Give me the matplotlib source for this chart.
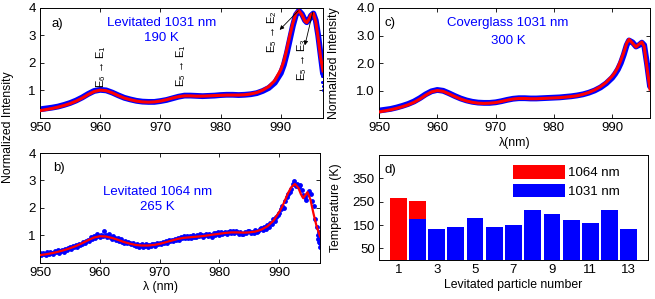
import matplotlib
matplotlib.use("Agg")
import matplotlib.pyplot as plt
from matplotlib.patches import Patch

plt.rcParams['font.family'] = ['Liberation Sans', 'DejaVu Sans']
plt.rcParams['mathtext.fontset'] = 'custom'
plt.rcParams['mathtext.rm'] = 'Liberation Sans'
plt.rcParams['mathtext.it'] = 'Liberation Sans:italic'

# ---------------- data ----------------
# panel a (levitated, 1031 nm)
xa = [950, 951, 952, 953, 954, 955, 956, 957, 958, 959, 960, 961, 962, 963, 964, 965,
      966, 967, 968, 969, 970, 971, 972, 973, 974, 975, 976, 977, 978, 979, 980, 981,
      982, 983, 984, 985, 986, 987, 988, 989, 990, 990.5, 991, 991.5, 992, 992.5, 993,
      993.5, 994, 994.3, 994.7, 995, 995.4, 995.8, 996.2, 996.6, 997]
fit_a = [0.25, 0.29, 0.33, 0.38, 0.44, 0.51, 0.60, 0.71, 0.84, 0.95, 1.00, 0.98, 0.90,
         0.80, 0.71, 0.65, 0.60, 0.57, 0.56, 0.57, 0.60, 0.65, 0.71, 0.76, 0.79, 0.79,
         0.78, 0.78, 0.79, 0.80, 0.81, 0.82, 0.82, 0.82, 0.83, 0.86, 0.91, 1.00, 1.13,
         1.35, 1.75, 2.05, 2.50, 3.00, 3.45, 3.80, 3.90, 3.75, 3.52, 3.47, 3.60, 3.75,
         3.80, 3.50, 2.90, 2.20, 1.70]
meas_a = [0.30, 0.33, 0.36, 0.40, 0.46, 0.53, 0.62, 0.73, 0.86, 0.97, 1.01, 0.99, 0.91,
          0.81, 0.72, 0.66, 0.61, 0.58, 0.57, 0.57, 0.60, 0.64, 0.70, 0.76, 0.80, 0.80,
          0.79, 0.78, 0.79, 0.80, 0.82, 0.83, 0.83, 0.82, 0.83, 0.85, 0.89, 0.97, 1.08,
          1.27, 1.62, 1.92, 2.35, 2.85, 3.35, 3.75, 3.90, 3.78, 3.55, 3.48, 3.58, 3.72,
          3.80, 3.55, 3.00, 2.30, 1.60]
edge_xa = [996.6, 996.7, 996.75, 996.8, 996.85, 996.9, 996.95, 997.0]
edge_ya = [2.40, 2.15, 1.90, 1.70, 1.50, 1.30, 1.15, 1.00]

# panel c (coverglass, 1031 nm)
xc = [950, 951, 952, 953, 954, 955, 956, 957, 958, 959, 960, 961, 962, 963, 964, 965,
      966, 967, 968, 969, 970, 971, 972, 973, 974, 975, 976, 977, 978, 979, 980, 981,
      982, 983, 984, 985, 986, 987, 988, 989, 990, 990.5, 991, 991.5, 992, 992.5, 992.9,
      993.5, 994.1, 994.6, 995.1, 995.5, 996.0, 996.5]
fit_c = [0.22, 0.26, 0.30, 0.35, 0.41, 0.48, 0.57, 0.69, 0.83, 0.95, 1.00, 0.97, 0.88,
         0.78, 0.69, 0.62, 0.57, 0.54, 0.53, 0.54, 0.56, 0.60, 0.65, 0.69, 0.71, 0.71,
         0.70, 0.70, 0.71, 0.72, 0.73, 0.74, 0.76, 0.78, 0.81, 0.86, 0.93, 1.02, 1.14,
         1.30, 1.52, 1.66, 1.85, 2.10, 2.38, 2.72, 2.86, 2.72, 2.58, 2.68, 2.76, 2.60,
         1.80, 1.05]
meas_c = [0.27, 0.30, 0.33, 0.38, 0.44, 0.51, 0.60, 0.72, 0.86, 0.97, 1.02, 0.99, 0.90,
          0.80, 0.71, 0.64, 0.59, 0.56, 0.55, 0.55, 0.57, 0.61, 0.66, 0.70, 0.72, 0.72,
          0.71, 0.71, 0.72, 0.73, 0.74, 0.75, 0.77, 0.79, 0.82, 0.86, 0.92, 1.00, 1.11,
          1.26, 1.46, 1.60, 1.77, 2.00, 2.30, 2.65, 2.82, 2.75, 2.60, 2.65, 2.74, 2.65,
          1.95, 1.15]

# panel b (levitated, 1064 nm)
xb_fit = [950, 951, 952, 953, 954, 955, 956, 957, 958, 959, 960, 961, 962, 963, 964, 965,
          966, 967, 968, 969, 970, 971, 972, 973, 974, 975, 976, 977, 978, 979, 980, 981,
          982, 983, 984, 985, 986, 987, 988, 989, 990, 990.5, 991, 991.5, 992, 992.6,
          993.2, 993.6, 994.0, 994.7, 995.2, 995.7, 996.2, 996.8]
fit_b = [0.27, 0.30, 0.34, 0.39, 0.45, 0.52, 0.60, 0.70, 0.81, 0.91, 0.96, 0.95, 0.90,
         0.83, 0.75, 0.69, 0.64, 0.62, 0.62, 0.64, 0.68, 0.74, 0.80, 0.86, 0.90, 0.92,
         0.94, 0.96, 0.99, 1.02, 1.05, 1.08, 1.10, 1.10, 1.09, 1.10, 1.13, 1.20, 1.32,
         1.52, 1.85, 2.05, 2.30, 2.55, 2.75, 2.87, 2.72, 2.50, 2.35, 2.57, 2.30, 1.80,
         1.35, 0.95]
xb_meas_start = 950.0
xb_meas_step = 0.25
meas_b = [
    0.33, 0.27, 0.35, 0.30,  0.28, 0.37, 0.31, 0.40,  0.36, 0.30, 0.41, 0.38,
    0.44, 0.36, 0.42, 0.47,  0.40, 0.50, 0.46, 0.53,  0.55, 0.48, 0.60, 0.57,
    0.63, 0.58, 0.68, 0.64,  0.67, 0.76, 0.72, 0.80,  0.84, 0.79, 0.92, 0.87,
    0.98, 0.90, 1.04, 0.95,  0.93, 1.02, 0.97, 1.16,  1.00, 0.92, 1.05, 0.94,
    0.86, 0.95, 0.88, 0.84,  0.88, 0.80, 0.85, 0.76,  0.72, 0.79, 0.70, 0.76,
    0.73, 0.66, 0.71, 0.64,  0.60, 0.67, 0.58, 0.65,  0.66, 0.55, 0.61, 0.68,
    0.58, 0.64, 0.60, 0.67,  0.69, 0.62, 0.71, 0.66,  0.73, 0.66, 0.75, 0.70,
    0.77, 0.72, 0.81, 0.78,  0.84, 0.79, 0.87, 0.82,  0.90, 0.84, 0.93, 0.88,
    0.95, 0.88, 0.98, 0.91,  0.97, 0.90, 1.01, 0.94,  0.92, 1.00, 0.95, 1.03,
    1.02, 0.94, 0.99, 1.05,  0.96, 1.05, 1.01, 0.93,  1.08, 1.00, 1.06, 1.12,
    1.02, 1.11, 1.04, 1.09,  1.13, 1.05, 1.10, 1.15,  1.06, 1.14, 1.08, 1.16,
    1.13, 1.05, 1.12, 1.03,  1.04, 1.12, 1.07, 1.14,  1.15, 1.06, 1.12, 1.08,
    1.18, 1.11, 1.16, 1.22,  1.25, 1.18, 1.29, 1.24,  1.38, 1.30, 1.45, 1.40,
    1.58, 1.50, 1.66, 1.72,  1.80, 1.95, 2.05, 2.00,  2.25, 2.40, 2.50, 2.58,
    2.70, 2.85, 2.96, 2.80,  2.88, 2.76, 2.82, 2.66,  2.45, 2.38, 2.30, 2.52,
    2.60, 2.50, 2.25, 2.05,  1.60, 1.30, 1.00, 0.70,
]
edge_xb = [996.4, 996.55, 996.65, 996.75, 996.8]
edge_yb = [0.85, 1.10, 0.75, 0.55, 0.90]

# panel d (temperatures)
particles = [1, 2, 3, 4, 5, 6, 7, 8, 9, 10, 11, 12, 13]
temp_1031 = [0, 175, 135, 142, 178, 142, 150, 215, 198, 173, 158, 215, 135]
particles_1064 = [1, 2]
temp_1064 = [265, 255]

BLUE = (0, 0, 1)
RED = (1, 0, 0)

# ---------------- figure ----------------
fig = plt.figure(figsize=(6.55, 2.99), dpi=100)
W, H = 655.0, 299.0

def axes_px(l, t, r, b):
    return fig.add_axes([l / W, 1 - b / H, (r - l) / W, (b - t) / H])

ax_a = axes_px(40, 8, 323, 117.5)
ax_b = axes_px(40, 153, 320, 262.5)
ax_c = axes_px(379, 8, 650, 118)
ax_d = axes_px(379, 155, 648, 260)

TICK_FS = 9.5
LAB_FS = 8.8
TXT_FS = 9.5

def style_spec(ax):
    ax.tick_params(direction='in', top=True, right=True, labelsize=TICK_FS,
                   length=3, width=0.6, pad=3)
    for s in ax.spines.values():
        s.set_linewidth(0.7)
    ax.set_xticks([950, 960, 970, 980, 990])

# panel a
ax_a.plot(xa, meas_a, color=BLUE, lw=4.2, solid_capstyle='round', zorder=2)
ax_a.plot(edge_xa, edge_ya, 'o', color=BLUE, ms=2.2, mec='none', zorder=2)
ax_a.plot(xa, fit_a, color=RED, lw=2.2, zorder=3)
ax_a.set_xlim(950, 997)
ax_a.set_ylim(0, 4)
ax_a.set_yticks([1, 2, 3, 4])
style_spec(ax_a)
ax_a.text(0.04, 0.85, 'a)', transform=ax_a.transAxes, fontsize=TXT_FS, va='center')
ax_a.text(0.43, 0.866, 'Levitated 1031 nm', transform=ax_a.transAxes, color=BLUE,
          fontsize=TXT_FS, ha='center', va='center')
ax_a.text(0.43, 0.725, '190 K', transform=ax_a.transAxes, color=BLUE,
          fontsize=TXT_FS, ha='center', va='center')
ann_fs = 8
ax_a.text(960.2, 1.85, r'E$_6$ → E$_1$', rotation=90, ha='center', va='center', fontsize=ann_fs)
ax_a.text(973.4, 1.9, r'E$_5$ → E$_1$', rotation=90, ha='center', va='center', fontsize=ann_fs)
ax_a.text(988.6, 3.15, r'E$_5$ → E$_2$', rotation=90, ha='center', va='center', fontsize=ann_fs)
ax_a.text(993.5, 2.1, r'E$_5$ → E$_3$', rotation=90, ha='center', va='center', fontsize=ann_fs)
ax_a.annotate('', xy=(989.8, 3.2), xytext=(992.9, 3.9),
              arrowprops=dict(arrowstyle='-|>', lw=0.6, color='k', mutation_scale=6,
                              shrinkA=0, shrinkB=0))
ax_a.annotate('', xy=(994.0, 2.64), xytext=(995.3, 3.85),
              arrowprops=dict(arrowstyle='-|>', lw=0.6, color='k', mutation_scale=6,
                              shrinkA=0, shrinkB=0))

# panel b
xb_meas = [xb_meas_start + i * xb_meas_step for i in range(len(meas_b))]
ax_b.plot(xb_meas, meas_b, 'o', color=BLUE, ms=3.5, mec='none', zorder=2)
ax_b.plot(edge_xb, edge_yb, 'o', color=BLUE, ms=3.5, mec='none', zorder=2)
ax_b.plot(xb_fit, fit_b, color=RED, lw=1.6, zorder=3)
ax_b.set_xlim(950, 996.8)
ax_b.set_ylim(0, 4)
ax_b.set_yticks([1, 2, 3, 4])
style_spec(ax_b)
ax_b.text(0.046, 0.86, 'b)', transform=ax_b.transAxes, fontsize=TXT_FS, va='center')
ax_b.text(0.42, 0.646, 'Levitated 1064 nm', transform=ax_b.transAxes, color=BLUE,
          fontsize=TXT_FS, ha='center', va='center')
ax_b.text(0.42, 0.507, '265 K', transform=ax_b.transAxes, color=BLUE,
          fontsize=TXT_FS, ha='center', va='center')
ax_b.set_xlabel('λ (nm)', fontsize=LAB_FS)
ax_b.xaxis.set_label_coords(0.43, -0.17)

# panel c
ax_c.plot(xc, meas_c, color=BLUE, lw=4.2, solid_capstyle='round', zorder=2)
ax_c.plot(xc, fit_c, color=RED, lw=2.2, zorder=3)
ax_c.set_xlim(950, 996.5)
ax_c.set_ylim(0, 4)
ax_c.set_yticks([1, 2, 3, 4])
ax_c.set_yticklabels(['1.0', '2.0', '3.0', '4.0'])
style_spec(ax_c)
ax_c.text(0.022, 0.866, 'c)', transform=ax_c.transAxes, fontsize=TXT_FS, va='center')
ax_c.text(0.476, 0.86, 'Coverglass 1031 nm', transform=ax_c.transAxes, color=BLUE,
          fontsize=TXT_FS, ha='center', va='center')
ax_c.text(0.476, 0.70, '300 K', transform=ax_c.transAxes, color=BLUE,
          fontsize=TXT_FS, ha='center', va='center')
ax_c.set_xlabel('λ(nm)', fontsize=LAB_FS)
ax_c.xaxis.set_label_coords(0.5, -0.17)
ax_c.set_ylabel('Normalized Intensity', fontsize=LAB_FS)
ax_c.yaxis.set_label_coords(-0.144, 0.5)

# shared y label for a/b
fig.text(8 / W, 1 - 127 / H, 'Normalized Intensity', rotation=90, fontsize=LAB_FS,
         ha='center', va='center')

# panel d
ax_d.bar(particles_1064, temp_1064, width=0.87, color=RED, zorder=2)
ax_d.bar(particles, temp_1031, width=0.87, color=BLUE, zorder=3)
ax_d.set_xlim(0, 14)
ax_d.set_ylim(0, 450)
ax_d.set_xticks([1, 3, 5, 7, 9, 11, 13])
ax_d.set_yticks([50, 150, 250, 350])
ax_d.tick_params(direction='in', labelsize=TICK_FS, length=3, width=0.6, pad=3)
for s in ax_d.spines.values():
    s.set_linewidth(0.7)
ax_d.text(0.022, 0.857, 'd)', transform=ax_d.transAxes, fontsize=TXT_FS, va='center')
ax_d.set_ylabel('Temperature (K)', fontsize=LAB_FS)
ax_d.yaxis.set_label_coords(-0.1375, 0.5)
ax_d.set_xlabel('Levitated particle number', fontsize=LAB_FS)
ax_d.xaxis.set_label_coords(0.5, -0.18)
handles = [Patch(facecolor=RED, edgecolor='none'), Patch(facecolor=BLUE, edgecolor='none')]
ax_d.legend(handles, ['1064 nm', '1031 nm'], loc='upper left',
            bbox_to_anchor=(0.49, 0.93), frameon=False, fontsize=TXT_FS,
            handlelength=3.9, handleheight=1.2, labelspacing=0.35, handletextpad=0.2,
            borderaxespad=0, borderpad=0.2)

fig.savefig('out.png', dpi=100)
